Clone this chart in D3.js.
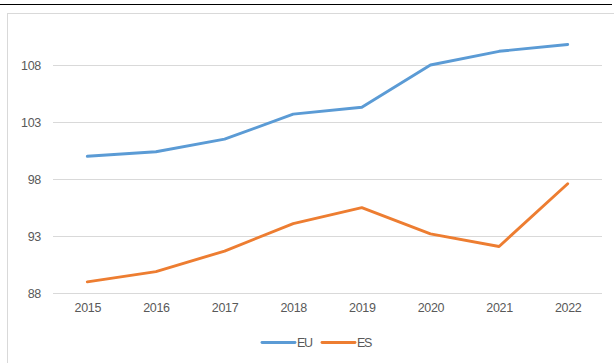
<!DOCTYPE html>
<html>
<head>
<meta charset="utf-8">
<script src="https://cdn.jsdelivr.net/npm/d3@7"></script>
<style>
  html, body { margin: 0; padding: 0; background: #fff; }
  svg { display: block; }
  text { font-family: "Liberation Sans", Arial, sans-serif; }
</style>
</head>
<body>
<svg id="chart" width="614" height="363"></svg>
<script>
// Yearly index values
const years = ["2015", "2016", "2017", "2018", "2019", "2020", "2021", "2022"];
const euValues = [100.0, 100.4, 101.5, 103.7, 104.3, 108.0, 109.2, 109.8];
const esValues = [89.0, 89.9, 91.7, 94.1, 95.5, 93.2, 92.1, 97.6];
const yTicks = [88, 93, 98, 103, 108];
const seriesNames = ["EU", "ES"];
const seriesColors = ["#5B9BD5", "#ED7D31"];

const svg = d3.select("#chart");

// Rule across the top of the page
svg.append("line")
  .attr("x1", 0).attr("x2", 612)
  .attr("y1", 4.5).attr("y2", 4.5)
  .attr("stroke", "#000").attr("stroke-width", 1.2);

// Chart area frame
svg.append("rect")
  .attr("x", 7.5).attr("y", 13.5)
  .attr("width", 620).attr("height", 360)
  .attr("fill", "none").attr("stroke", "#D9D9D9").attr("stroke-width", 1);

const plot = { left: 53, right: 602, top: 65, bottom: 293.3 };

const x = d3.scalePoint()
  .domain(years)
  .range([plot.left, plot.right])
  .padding(0.5);

const y = d3.scaleLinear()
  .domain([88, 108])
  .range([plot.bottom, plot.top]);

const labelFont = "12.5px";

// Horizontal gridlines
svg.append("g")
  .selectAll("line")
  .data(yTicks)
  .join("line")
  .attr("x1", plot.left).attr("x2", plot.right)
  .attr("y1", d => Math.round(y(d)) + 0.5)
  .attr("y2", d => Math.round(y(d)) + 0.5)
  .attr("stroke", "#D9D9D9").attr("stroke-width", 1);

// Y axis labels
const yAxis = d3.axisLeft(y).tickValues(yTicks).tickSize(0).tickPadding(0);
svg.append("g")
  .attr("transform", `translate(${plot.left - 12},0)`)
  .call(yAxis)
  .call(g => g.select(".domain").remove())
  .call(g => g.selectAll("text")
    .attr("fill", "#595959")
    .style("font-size", labelFont)
    .style("letter-spacing", "-0.3px")
    .style("font-family", "'Liberation Sans', Arial, sans-serif"));

// X axis labels
const xAxis = d3.axisBottom(x).tickSize(0).tickPadding(0);
svg.append("g")
  .attr("transform", `translate(0,${plot.bottom + 10})`)
  .call(xAxis)
  .call(g => g.select(".domain").remove())
  .call(g => g.selectAll("text")
    .attr("fill", "#595959")
    .style("font-size", labelFont)
    .style("letter-spacing", "-0.3px")
    .style("font-family", "'Liberation Sans', Arial, sans-serif"));

// Series lines
const series = [euValues, esValues];
const line = d3.line()
  .x((d, i) => x(years[i]))
  .y(d => y(d));

svg.append("g")
  .selectAll("path")
  .data(series)
  .join("path")
  .attr("d", d => line(d))
  .attr("fill", "none")
  .attr("stroke", (d, i) => seriesColors[i])
  .attr("stroke-width", 2.9)
  .attr("stroke-linecap", "round")
  .attr("stroke-linejoin", "round");

// Legend
const legendY = 342.5;
const legendX = [262, 322];
const legend = svg.append("g")
  .selectAll("g")
  .data(seriesNames)
  .join("g")
  .attr("transform", (d, i) => `translate(${legendX[i]},${legendY})`);

legend.append("line")
  .attr("x1", 0).attr("x2", 33)
  .attr("y1", 0).attr("y2", 0)
  .attr("stroke", (d, i) => seriesColors[i])
  .attr("stroke-width", 2.9)
  .attr("stroke-linecap", "round");

legend.append("text")
  .attr("x", 35)
  .attr("y", 4.5)
  .attr("fill", "#595959")
  .style("font-size", labelFont)
  .style("letter-spacing", "-1.3px")
  .text(d => d);
</script>
</body>
</html>
